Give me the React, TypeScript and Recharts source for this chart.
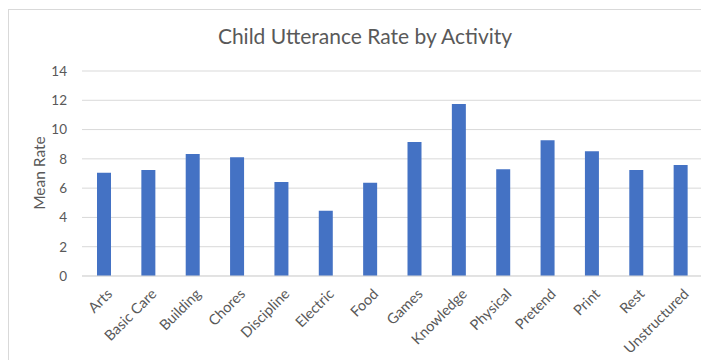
import React from "react";
import { BarChart, Bar, XAxis, YAxis, CartesianGrid } from "recharts";

const categories = [
  "Arts", "Basic Care", "Building", "Chores", "Discipline", "Electric", "Food",
  "Games", "Knowledge", "Physical", "Pretend", "Print", "Rest", "Unstructured",
];
const meanRates = [7.05, 7.24, 8.33, 8.11, 6.42, 4.46, 6.37, 9.15, 11.75, 7.29, 9.27, 8.52, 7.24, 7.58];
const yTicks = [0, 2, 4, 6, 8, 10, 12, 14];

const data = categories.map((c, i) => ({ name: c, value: meanRates[i] }));

const FONT = "Lato, 'Open Sans', sans-serif";
const TEXT = "#595959";

const XTick = (props: any) => {
  const { x, y, payload } = props;
  const ax = x + 1;
  const ay = y + 3;
  return (
    <text
      x={ax}
      y={ay}
      textAnchor="end"
      fill={TEXT}
      fontSize={14.5}
      fontFamily={FONT}
      transform={`rotate(-45, ${ax}, ${ay})`}
      dominantBaseline="hanging"
    >
      {payload.value}
    </text>
  );
};

export default function App() {
  return (
    <div style={{ position: "relative", width: 701, height: 352, fontFamily: FONT }}>
      <div
        style={{
          position: "absolute",
          left: 0,
          top: 1,
          width: 701,
          height: 351,
          borderTop: "1px solid #d9d9d9",
          borderLeft: "1px solid #d9d9d9",
          boxSizing: "border-box",
        }}
      />
      <div
        style={{
          position: "absolute",
          left: 0,
          top: 15,
          width: 714,
          textAlign: "center",
          fontSize: 21,
          color: TEXT,
          fontFamily: FONT,
        }}
      >
        Child Utterance Rate by Activity
      </div>
      <BarChart
        width={701}
        height={352}
        data={data}
        margin={{ top: 63, right: 6, left: 0, bottom: 0 }}
      >
        <CartesianGrid vertical={false} stroke="#d9d9d9" strokeWidth={1} />
        <XAxis
          dataKey="name"
          height={84}
          interval={0}
          tickLine={false}
          axisLine={{ stroke: "#d9d9d9" }}
          tick={<XTick />}
        />
        <YAxis
          width={74}
          domain={[0, 14]}
          ticks={yTicks}
          tickLine={false}
          axisLine={false}
          tickMargin={9}
          tick={{ fill: TEXT, fontSize: 13.5, fontFamily: FONT }}
          label={{
            content: () => (
              <text
                x={31}
                y={165}
                textAnchor="middle"
                dominantBaseline="central"
                fill={TEXT}
                fontSize={15.5}
                fontFamily={FONT}
                transform="rotate(-90, 31, 165)"
              >
                Mean Rate
              </text>
            ),
          }}
        />
        <Bar dataKey="value" fill="#4472C4" barSize={14} isAnimationActive={false} />
      </BarChart>
    </div>
  );
}
